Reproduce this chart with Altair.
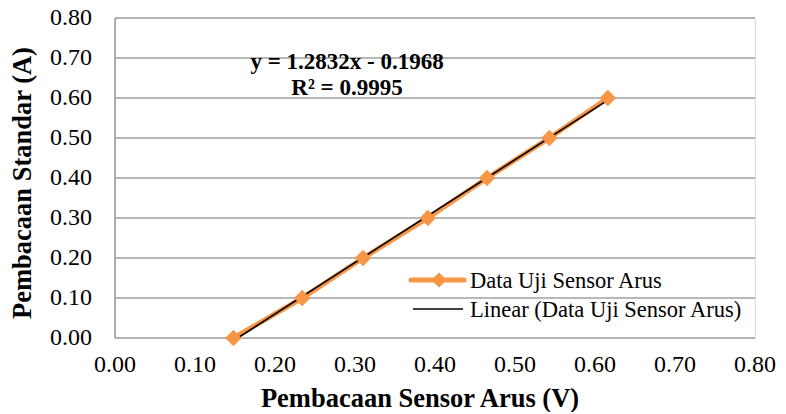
import altair as alt
import pandas as pd

sensor_v = [0.148, 0.234, 0.310, 0.391, 0.465, 0.543, 0.616]
standar_a = [0.00, 0.10, 0.20, 0.30, 0.40, 0.50, 0.60]
tick_vals = [0.0, 0.1, 0.2, 0.3, 0.4, 0.5, 0.6, 0.7, 0.8]
series_name = "Data Uji Sensor Arus"
trend_name = "Linear (Data Uji Sensor Arus)"
x_title = "Pembacaan Sensor Arus (V)"
y_title = "Pembacaan Standar (A)"
eq_lines = ["y = 1.2832x - 0.1968", "R² = 0.9995"]
eq_x = [0.29, 0.29]
eq_y = [0.69, 0.625]

FONT = "Times New Roman, Liberation Serif, Times, serif"
ORANGE = "#F79646"

df = pd.DataFrame({"x": sensor_v, "y": standar_a})
eq_df = pd.DataFrame({"t": eq_lines, "x": eq_x, "y": eq_y})
tick_df = pd.DataFrame({"v": tick_vals})
one = pd.DataFrame({"a": [0]})

xs = alt.Scale(domain=[0, 0.8], nice=False, zero=False)
ys = alt.Scale(domain=[0, 0.8], nice=False, zero=False)

X = alt.X("x:Q", scale=xs, axis=None)
Y = alt.Y("y:Q", scale=ys, axis=None)

# gridlines and axis labels from tick values
grid = alt.Chart(tick_df).mark_rule(color="#a0a0a0", strokeWidth=1.3).encode(
    y=alt.Y("v:Q", scale=ys, axis=None))
y_axis_line = alt.Chart(one).mark_rule(color="#8c8c8c", strokeWidth=1.3).encode(
    x=alt.value(0), y=alt.value(0), y2=alt.value(320))
y_labels = alt.Chart(tick_df).mark_text(font=FONT, fontSize=24, align="right", baseline="middle",
                                        color="black").encode(
    x=alt.value(-23), y=alt.Y("v:Q", scale=ys, axis=None), text=alt.Text("v:Q", format=".2f"))
x_labels = alt.Chart(tick_df).mark_text(font=FONT, fontSize=24, align="center", baseline="top",
                                        color="black").encode(
    x=alt.X("v:Q", scale=xs, axis=None), y=alt.value(335), text=alt.Text("v:Q", format=".2f"))
x_title_mark = alt.Chart(one).mark_text(font=FONT, fontSize=26.5, fontWeight="bold", align="center",
                                        baseline="alphabetic", color="black", text=x_title).encode(
    x=alt.value(305), y=alt.value(389))
y_title_mark = alt.Chart(one).mark_text(font=FONT, fontSize=26.5, fontWeight="bold", align="center",
                                        baseline="middle", color="black", angle=270, text=y_title).encode(
    x=alt.value(-92), y=alt.value(165))

base = alt.Chart(df)
line = base.mark_line(color=ORANGE, strokeWidth=5).encode(x=X, y=Y)
pts = base.mark_point(shape="diamond", filled=True, color=ORANGE, size=270, opacity=1).encode(x=X, y=Y)
trend = base.transform_regression("x", "y").mark_line(color="black", strokeWidth=1.6).encode(x=X, y=Y)

eq = alt.Chart(eq_df).mark_text(font=FONT, fontSize=23, fontWeight="bold", color="black",
                                align="center", baseline="middle").encode(
    x=X, y=Y, text="t:N")

# legend
lg = alt.Chart(one)
leg_orange = lg.mark_rule(color=ORANGE, strokeWidth=5, strokeCap="round").encode(
    x=alt.value(296), x2=alt.value(349), y=alt.value(262))
leg_diamond = lg.mark_point(shape="diamond", filled=True, color=ORANGE, size=230, opacity=1).encode(
    x=alt.value(324), y=alt.value(262))
leg_black = lg.mark_rule(color="black", strokeWidth=1.6).encode(
    x=alt.value(298), x2=alt.value(348), y=alt.value(291))
leg_t1 = lg.mark_text(font=FONT, fontSize=22.5, align="left", baseline="alphabetic", color="black",
                      text=series_name).encode(x=alt.value(355), y=alt.value(270))
leg_t2 = lg.mark_text(font=FONT, fontSize=22.5, align="left", baseline="alphabetic", color="black",
                      text=trend_name).encode(x=alt.value(355), y=alt.value(299))

chart = alt.layer(grid, y_axis_line, y_labels, x_labels, x_title_mark, y_title_mark,
                  line, trend, pts, eq,
                  leg_orange, leg_diamond, leg_black, leg_t1, leg_t2).properties(
    width=640, height=320,
    autosize=alt.AutoSizeParams(type="none"),
    padding={"left": 107, "top": 10, "right": 23, "bottom": 74},
).configure_view(stroke=None).configure(background="white")

chart.save("out.html", embed_options={"renderer": "svg", "actions": False})
